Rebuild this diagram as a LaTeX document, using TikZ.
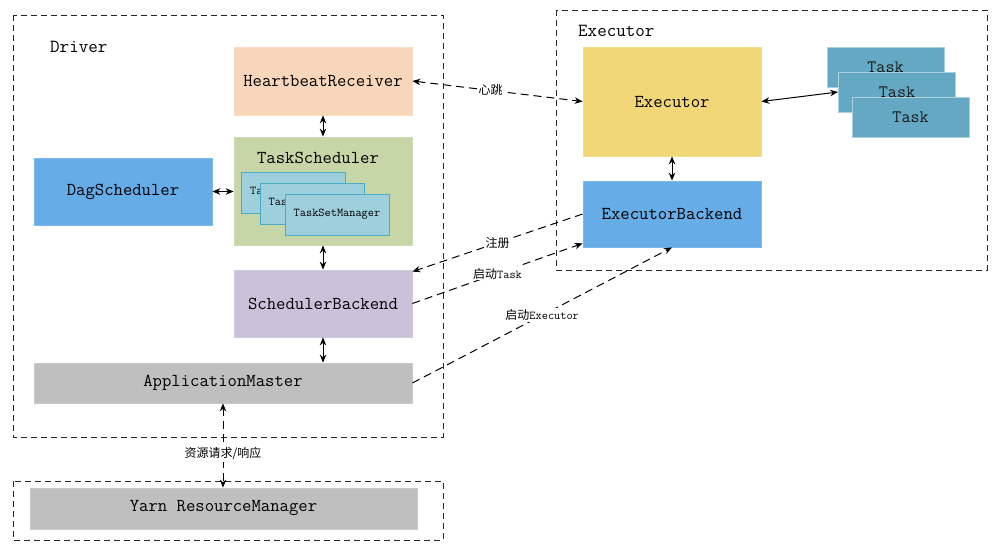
\documentclass[tikz,border=0pt]{standalone}
\usepackage{fontspec}
\newfontfamily\cjk{Noto Sans CJK SC}
\usetikzlibrary{arrows.meta,calc}
\definecolor{peach}{HTML}{F8D6BA}
\definecolor{sgreen}{HTML}{C7D6A6}
\definecolor{lav}{HTML}{CAC2DA}
\definecolor{lgray}{HTML}{BFBFBF}
\definecolor{sblue}{HTML}{66ADE8}
\definecolor{syellow}{HTML}{F2D778}
\definecolor{tsmfill}{HTML}{9DCFDD}
\definecolor{tsmdraw}{HTML}{4BACC6}
\definecolor{taskfill}{HTML}{64A8C4}
\tikzset{
  box/.style={draw=#1!85!white, fill=#1, line width=0.8pt, inner sep=0pt,
    font=\ttfamily\fontsize{18.2}{20}\selectfont, text=black},
  frame/.style={draw=black!85, line width=1pt, dash pattern=on 6pt off 4pt},
  tsm/.style={draw=tsmdraw, fill=tsmfill, line width=0.8pt, inner sep=0pt,
    minimum width=104, minimum height=41, font=\ttfamily\fontsize{12}{13}\selectfont},
  taskbox/.style={draw=taskfill!55!white, fill=taskfill, line width=0.8pt, inner sep=0pt,
    minimum width=117, minimum height=40, font=\ttfamily\fontsize{17.5}{18}\selectfont, text=black!90},
  dbl/.style={{Stealth[length=8pt,width=6.5pt]}-{Stealth[length=8pt,width=6.5pt]}, line width=1pt},
  dsh/.style={-{Stealth[length=8pt,width=6.5pt]}, line width=1pt, dash pattern=on 8pt off 5pt},
  dshdbl/.style={{Stealth[length=8pt,width=6.5pt]}-{Stealth[length=8pt,width=6.5pt]}, line width=1pt, dash pattern=on 8pt off 5pt},
  lbl/.style={fill=white, inner sep=1.5pt, font=\fontsize{12}{14}\selectfont},
  title/.style={font=\ttfamily\fontsize{18.5}{20}\selectfont, inner sep=0pt, anchor=west}
}
\begin{document}
\begin{tikzpicture}[x=1pt,y=-1pt]
\useasboundingbox (0,0) rectangle (1006,554);
% frames
\draw[frame] (13,15) rectangle (443,437);
\draw[frame] (556,10) rectangle (987,270);
\draw[frame] (13,481) rectangle (443,540);
\node[title] (drvlbl) at (50,47) {Driver};
\node[title] (exlbl) at (578,31) {Executor};
% driver boxes
\node[box=peach, minimum width=178, minimum height=68] (hb) at (323,81) {HeartbeatReceiver};
\node[box=sgreen, minimum width=178, minimum height=108] (ts) at (323,191) {};
\node[font=\ttfamily\fontsize{18.2}{20}\selectfont, inner sep=0pt, text=black] (tslbl) at (318,158) {TaskScheduler};
\node[tsm] (tsm1) at (293.5,192.5) {TaskSetManager};
\node[tsm] (tsm2) at (312,203.5) {TaskSetManager};
\node[tsm] (tsm3) at (337,214.5) {TaskSetManager};
\node[box=sblue, minimum width=178, minimum height=67] (dag) at (123,191.5) {DagScheduler};
\node[box=lav, minimum width=178, minimum height=67] (sb) at (323,303.5) {SchedulerBackend};
\node[box=lgray, minimum width=378, minimum height=40] (am) at (223,383) {ApplicationMaster};
\node[box=lgray, minimum width=387, minimum height=41] (yarn) at (223.5,508.5) {Yarn ResourceManager};
% executor boxes
\node[box=syellow, minimum width=178, minimum height=109] (ex) at (672,101.5) {Executor};
\node[box=sblue, minimum width=178, minimum height=66] (eb) at (672,214) {ExecutorBackend};
\node[taskbox] (task1) at (885.5,67) {Task};
\node[taskbox] (task2) at (897,92) {Task};
\node[taskbox] (task3) at (910.5,117) {Task};
% solid connectors
\draw[dbl] (hb.south) -- (ts.north);
\draw[dbl] (dag.east) -- (dag.east -| ts.west);
\draw[dbl] (ts.south) -- (sb.north);
\draw[dbl] (sb.south) -- (sb.south |- am.north);
\draw[dbl] (ex.south) -- (eb.north);
\draw[dbl] (ex.east) -- (task2.west);
% dashed connectors
\draw[dshdbl] (hb.east) -- node[lbl, pos=0.46] (lhb) {\cjk 心跳} (ex.west);
\draw[dsh] (eb.west) -- node[lbl, pos=0.5] (lreg) {\cjk 注册} ($(sb.north east)+(0,2)$);
\draw[dsh] (sb.east) -- node[lbl, pos=0.5] (ltask) {\cjk 启动{\ttfamily Task}} ($(eb.south west)+(0,-4)$);
\draw[dsh] (am.east) -- node[lbl, pos=0.5] (lexe) {\cjk 启动{\ttfamily Executor}} (eb.south);
\draw[dshdbl] (am.south) -- node[lbl, pos=0.6] (lres) {\cjk 资源请求/响应} (am.south |- yarn.north);
\end{tikzpicture}
\end{document}
